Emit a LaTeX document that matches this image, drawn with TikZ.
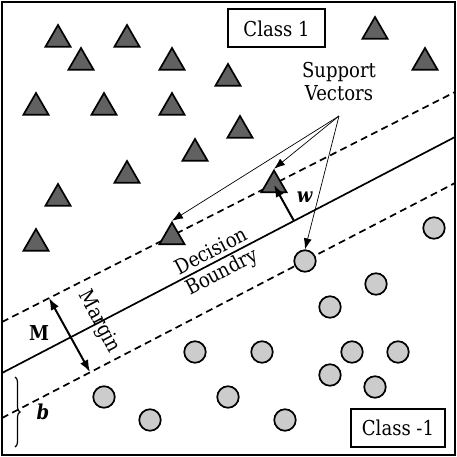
\documentclass[tikz,border=0pt]{standalone}
\usepackage{fontspec}
\setmainfont[FakeStretch=0.88]{DejaVu Serif}
\usetikzlibrary{shapes.geometric}
\usetikzlibrary{positioning}
\usetikzlibrary{arrows.meta}
\usetikzlibrary{decorations.pathreplacing}
\tikzset{
  tripoint/.style={regular polygon, regular polygon sides=3, minimum size=29pt, inner sep=0pt, draw, line width=1.7pt, fill=black!62},
  roundpoint/.style={circle, minimum size=21.5pt, inner sep=0pt, draw, line width=1.7pt, fill=black!20},
  classbox/.style={draw, line width=2pt, minimum height=38pt},
  marginline/.style={line width=1.7pt, dash pattern=on 7pt off 4.5pt},
  svarrow/.style={line width=0.7pt, -{Latex[length=11pt,width=8pt]}},
  bigarrow/.style={line width=2pt, -{Latex[length=12pt,width=9pt]}}
}
\begin{document}
\begin{tikzpicture}[x=1pt, y=-1pt, font=\fontsize{20.5}{23}\selectfont]
\useasboundingbox (0,0) rectangle (457,457);
\draw [line width=1.2pt] (2,2) rectangle (455,455);
% boundary and margins
\coordinate (dbw) at (2,373);
\coordinate (dbe) at (455,137);
\coordinate (upw) at (2,322);
\coordinate (upe) at (455,92);
\coordinate (low) at (2,418);
\coordinate (loe) at (455,183);
\draw [line width=1.7pt] (dbw) -- (dbe);
\draw [marginline] (upw) -- (upe);
\draw [marginline] (low) -- (loe);
% class 1
\foreach \x/\y [count=\i] in {58/39.5, 127/39.5, 81/62.5, 172/62.5, 228/78.5, 375/31.5, 425/62.5, 36/107.5, 104/107.5, 172/107.5, 240/130.5, 195/153.5, 127/175.5, 58/198.5, 36/243.5}
  \node [tripoint] (t\i) at (\x,\y) {};
\node [tripoint] (sv1) at (172,237) {};
\node [tripoint] (sv2) at (274,185) {};
% class -1
\foreach \x/\y [count=\i] in {434/228, 376/284, 330/307, 195/352, 262/352, 352/352, 398/352, 330/375, 375/387, 104/397, 228/397, 150/420, 285/420}
  \node [roundpoint] (c\i) at (\x,\y) {};
\node [roundpoint] (sv3) at (305,261) {};
% labels
\node [classbox, minimum width=97pt] (cls1) at (276.5,28.5) {Class 1};
\node [classbox, minimum width=94pt] (cls2) at (398,428) {Class -1};
\node [align=center] (svtext) at (339,82) {Support\\Vectors};
\coordinate (svfrom) at (339,116);
\draw [svarrow] (svfrom) -- (sv1.north);
\draw [svarrow] (svfrom) -- (sv2.north);
\draw [svarrow] (svfrom) -- (sv3.north);
% w
\coordinate (wbase) at (294,221);
\draw [bigarrow] (wbase) -- (sv2.center);
\node (w) at (305,197) {\textbf{\textit{w}}};
% margin
\coordinate (mtop) at (49,298);
\coordinate (mbot) at (90,372);
\draw [line width=2pt, {Latex[length=12pt,width=9pt]}-{Latex[length=12pt,width=9pt]}] (mtop) -- (mbot);
\node (m) at (39,333) {\textbf{M}};
\node [rotate=-62] (margin) at (99,322) {Margin};
\node [rotate=27.5, align=center] (dbtext) at (217,263) {Decision\\Boundry};
% intercept
\coordinate (btop) at (15,377);
\coordinate (bbot) at (15,447);
\draw [line width=1.2pt, decorate, decoration={brace, amplitude=5pt}] (btop) -- (bbot);
\node (b) at (43,412) {\textbf{\textit{b}}};
\end{tikzpicture}
\end{document}
